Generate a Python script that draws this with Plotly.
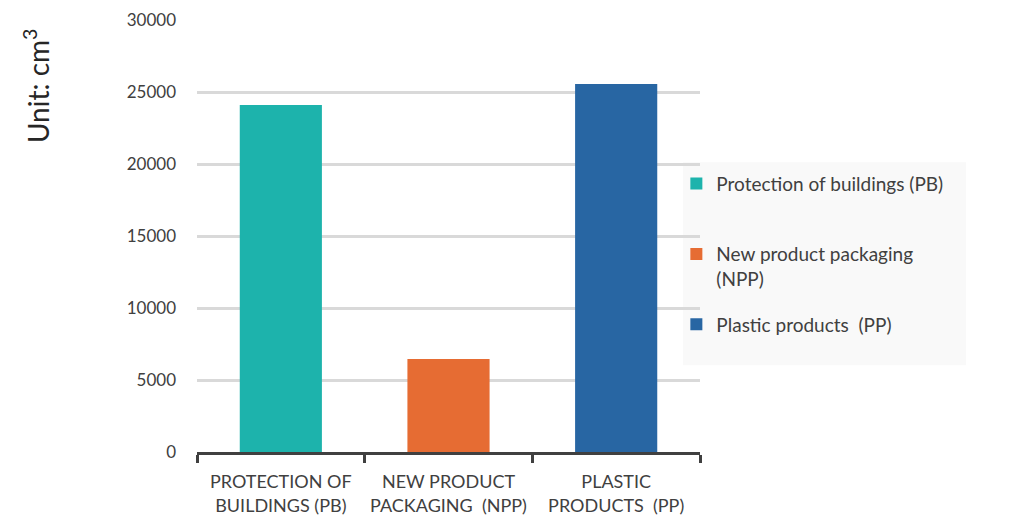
import plotly.graph_objects as go

categories = ["PROTECTION OF<br>BUILDINGS (PB)", "NEW PRODUCT<br>PACKAGING  (NPP)", "PLASTIC<br>PRODUCTS  (PP)"]
legend_names = ["Protection of buildings (PB)<br>&nbsp;", "New product packaging<br>(NPP)", "Plastic products  (PP)<br>&nbsp;"]
values = [24100, 6450, 25550]
colors = ["#1DB3AC", "#E66C33", "#2866A3"]
y_ticks = [0, 5000, 10000, 15000, 20000, 25000, 30000]

fig = go.Figure()
for i, (c, v, n, col) in enumerate(zip(categories, values, legend_names, colors)):
    fig.add_trace(go.Bar(x=[c], y=[v], name=n, marker=dict(color=col, line=dict(width=0)),
                         width=0.49, legendgroup=str(i), showlegend=True))

font_family = "Lato, Open Sans, sans-serif"
fig.update_layout(
    width=1031, height=528,
    margin=dict(l=189, r=339, t=12, b=84, autoexpand=False),
    plot_bgcolor="white", paper_bgcolor="white",
    barmode="overlay",
    font=dict(family=font_family, color="#404040"),
    legend=dict(x=0.953, y=0.665, xanchor="left", yanchor="top", valign="top",
                bgcolor="rgba(0,0,0,0)", font=dict(size=19, color="#404040"),
                tracegroupgap=18, itemwidth=30, traceorder="grouped"),
    shapes=[dict(type="rect", xref="paper", yref="paper", x0=0.966, x1=1.529, y0=0.201, y1=0.671,
                 fillcolor="#f9f9f9", line=dict(width=0), layer="below")],
    annotations=[dict(text="Unit: cm<sup>3</sup>", textangle=-90, xref="paper", yref="paper",
                      x=0, y=0.847, xanchor="center", yanchor="middle", xshift=-161, showarrow=False,
                      font=dict(size=28, color="#262626"))],
    xaxis=dict(categoryorder="array", categoryarray=categories,
               showline=True, linecolor="#404040", linewidth=2.5,
               ticks="outside", tickson="boundaries", ticklen=8, tickwidth=2.5, tickcolor="#404040",
               tickfont=dict(size=18, color="#404040"), showgrid=False, ticklabelstandoff=12),
    yaxis=dict(range=[0, 30000], tickvals=y_ticks, ticktext=[str(t) for t in y_ticks],
               showgrid=True, gridcolor="#d9d9d9", gridwidth=2.5, zeroline=False,
               showline=False, ticks="", tickfont=dict(size=17, color="#404040"),
               ticklabelstandoff=20),
)

fig.write_html("out.html")
